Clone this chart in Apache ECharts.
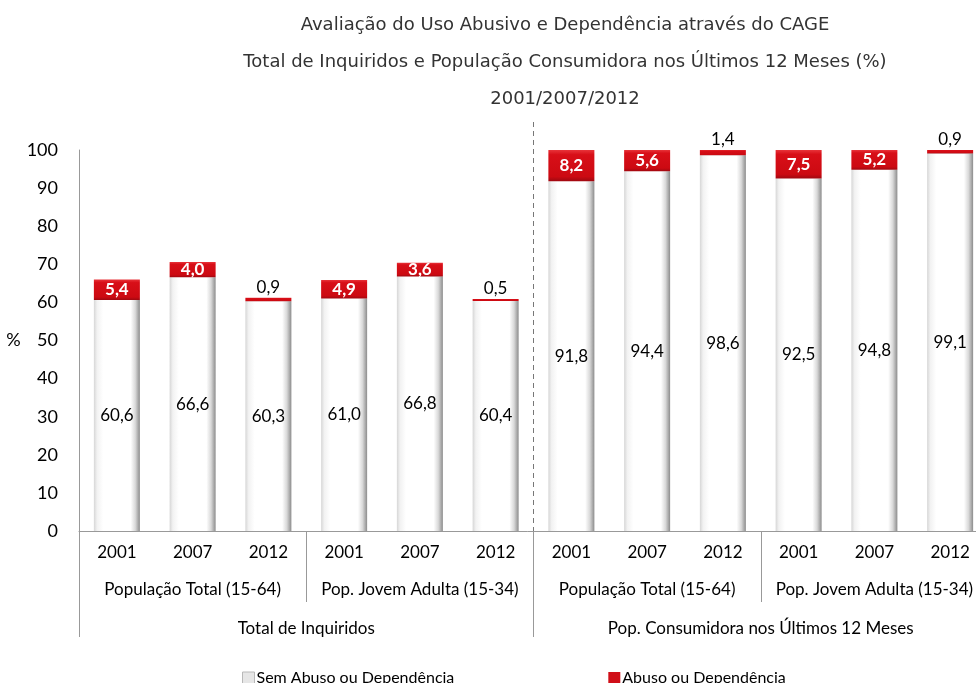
<!DOCTYPE html>
<html>
<head>
<meta charset="utf-8">
<script src="https://cdn.jsdelivr.net/npm/echarts@6/dist/echarts.min.js"></script>
<style>
  html, body { margin: 0; padding: 0; background: #fff; }
  #main { width: 976px; height: 683px; }
</style>
</head>
<body>
<div id="main"></div>
<script>
var years = ['2001', '2007', '2012', '2001', '2007', '2012', '2001', '2007', '2012', '2001', '2007', '2012'];
var groups = ['População Total (15-64)', 'Pop. Jovem Adulta (15-34)', 'População Total (15-64)', 'Pop. Jovem Adulta (15-34)'];
var superGroups = ['Total de Inquiridos', 'Pop. Consumidora nos Últimos 12 Meses'];
var semAbuso = [60.6, 66.6, 60.3, 61.0, 66.8, 60.4, 91.8, 94.4, 98.6, 92.5, 94.8, 99.1];
var abuso = [5.4, 4.0, 0.9, 4.9, 3.6, 0.5, 8.2, 5.6, 1.4, 7.5, 5.2, 0.9];
var yTicks = [0, 10, 20, 30, 40, 50, 60, 70, 80, 90, 100];

var axisFont = 'Lato, "Liberation Sans", sans-serif';
var fmt = function (v) { return v.toFixed(1).replace('.', ','); };

// unique keys so repeated years stay separate categories
var catKeys = years.map(function (y, i) { return i + '_' + y; });

var whiteFill = new echarts.graphic.LinearGradient(0, 0, 1, 0, [
  { offset: 0, color: '#d6d6d6' },
  { offset: 0.07, color: '#f2f2f2' },
  { offset: 0.2, color: '#ffffff' },
  { offset: 0.8, color: '#ffffff' },
  { offset: 0.9, color: '#d9d9d9' },
  { offset: 1, color: '#8c8c8c' }
]);
var redFill = new echarts.graphic.LinearGradient(0, 0, 0, 1, [
  { offset: 0, color: '#e8343a' },
  { offset: 0.15, color: '#d80f18' },
  { offset: 0.85, color: '#cc0a12' },
  { offset: 1, color: '#9e0810' }
]);

var chart = echarts.init(document.getElementById('main'));

chart.setOption({
  animation: false,
  textStyle: { fontFamily: axisFont },
  title: {
    text: 'Avaliação do Uso Abusivo e Dependência através do CAGE\nTotal de Inquiridos e População Consumidora nos Últimos 12 Meses (%)\n2001/2007/2012',
    left: 560,
    textAlign: 'center',
    top: 2,
    textStyle: {
      fontFamily: '"DejaVu Sans", sans-serif',
      fontSize: 18,
      fontWeight: 'normal',
      color: '#333',
      lineHeight: 37
    }
  },
  legend: {
    left: 237,
    top: 665,
    itemWidth: 12,
    itemHeight: 12,
    itemGap: 154,
    itemStyle: { borderWidth: 0 },
    textStyle: { fontSize: 16, color: '#000', fontFamily: axisFont, padding: [0, 0, 0, -3] },
    data: [
      { name: 'Sem Abuso ou Dependência', icon: 'rect', itemStyle: { color: '#e6e6e6', borderColor: '#b8b8b8', borderWidth: 1 } },
      { name: 'Abuso ou Dependência', icon: 'rect', itemStyle: { color: '#d00f18' } }
    ]
  },
  grid: { left: 79, top: 150, right: -12, bottom: 152, containLabel: false, outerBoundsMode: 'none' },
  xAxis: [{
    type: 'category',
    data: catKeys,
    position: 'bottom',
    axisLine: { show: true, lineStyle: { color: '#999', width: 1 } },
    axisTick: { show: false },
    axisLabel: {
      margin: 13,
      fontSize: 17,
      color: '#000',
      interval: 0,
      formatter: function (v) { return v.split('_')[1]; }
    }
  }, {
    type: 'category',
    data: groups,
    position: 'bottom',
    axisLine: { show: false },
    axisTick: { show: true, length: 71, lineStyle: { color: '#999' } },
    axisLabel: { margin: 50, fontSize: 17, color: '#000', interval: 0 }
  }, {
    type: 'category',
    data: superGroups,
    position: 'bottom',
    axisLine: { show: false },
    axisTick: { show: true, length: 106, lineStyle: { color: '#999' } },
    axisLabel: { margin: 89, fontSize: 17, color: '#000', interval: 0 }
  }],
  yAxis: {
    type: 'value',
    min: yTicks[0],
    max: yTicks[yTicks.length - 1],
    interval: 10,
    name: '%',
    nameLocation: 'middle',
    nameRotate: 0,
    nameGap: 58,
    nameTextStyle: { fontSize: 18, color: '#000' },
    axisLine: { show: true, lineStyle: { color: '#999' } },
    axisTick: { show: false },
    splitLine: { show: false },
    axisLabel: { fontSize: 18, color: '#000', margin: 21 }
  },
  series: [{
    name: 'Sem Abuso ou Dependência',
    type: 'bar',
    stack: 'total',
    barWidth: 46,
    itemStyle: { color: whiteFill },
    label: {
      show: true,
      position: 'inside',
      color: '#000',
      fontSize: 17,
      formatter: function (p) { return fmt(p.value); }
    },
    data: semAbuso
  }, {
    name: 'Abuso ou Dependência',
    type: 'bar',
    stack: 'total',
    barWidth: 46,
    itemStyle: { color: redFill },
    label: {
      show: true,
      formatter: function (p) { return fmt(p.value); }
    },
    data: abuso.map(function (v) {
      var small = v < 2;
      return {
        value: v,
        label: small
          ? { position: 'top', distance: 2, color: '#000', fontSize: 17, fontWeight: 'normal' }
          : { position: 'inside', color: '#fff', fontSize: 17, fontWeight: 'bold' }
      };
    })
  }]
});

// dashed divider between the two survey populations
var xa = chart.convertToPixel({ xAxisIndex: 0 }, catKeys[5]);
var xb = chart.convertToPixel({ xAxisIndex: 0 }, catKeys[6]);
var yTop = chart.convertToPixel({ yAxisIndex: 0 }, 100);
var yBot = chart.convertToPixel({ yAxisIndex: 0 }, 0);
var xm = (xa + xb) / 2;
chart.setOption({
  graphic: [{
    type: 'line',
    shape: { x1: xm, y1: yTop - 28, x2: xm, y2: yBot },
    style: { stroke: '#777', lineWidth: 1, lineDash: [5, 4] }
  }]
});
</script>
</body>
</html>
